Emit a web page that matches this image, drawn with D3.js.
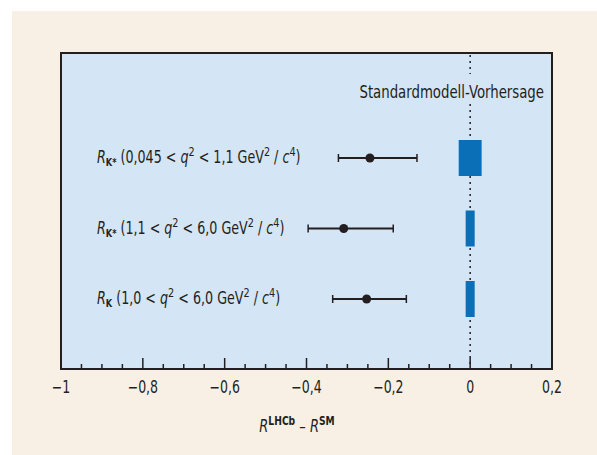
<!DOCTYPE html>
<html>
<head>
<meta charset="utf-8">
<script src="https://cdn.jsdelivr.net/npm/d3@7"></script>
<style>
  body { margin: 0; background: #fff; }
  svg text { font-family: "DejaVu Sans Condensed", "Liberation Sans Narrow", sans-serif; fill: #231f20; }
</style>
</head>
<body>
<svg id="chart"></svg>
<script>
// data
var rows = ["RKstarLow", "RKstarCentral", "RK"];
var lhcbValue = [-0.245, -0.309, -0.253];
var lhcbLow = [-0.322, -0.396, -0.336];
var lhcbHigh = [-0.130, -0.188, -0.156];
var smError = [0.028, 0.011, 0.011];
var xTicks = [-1, -0.8, -0.6, -0.4, -0.2, 0, 0.2];
var labelSub = ["K*", "K*", "K"];
var labelRange = [["0,045", "1,1"], ["1,1", "6,0"], ["1,0", "6,0"]];

var width = 597,
    height = 455;

var svg = d3.select("#chart")
    .attr("width", width)
    .attr("height", height);

// text squeezed horizontally to look like the condensed font of the original
function narrowText(parent, px, py, sx){
    return parent.append("g")
        .attr("transform", "translate(" + px + "," + py + ")")
        .append("text")
        .attr("transform", "scale(" + sx + ",1)");
}

// beige panel
svg.append("rect")
    .attr("x", 12).attr("y", 11)
    .attr("width", width - 12).attr("height", height - 11)
    .attr("fill", "#f9f0e5");

var pLeft = 61, pRight = 552, pTop = 53, pBottom = 369;

var x = d3.scaleLinear()
    .domain([-1, 0.2])
    .range([pLeft, pRight]);

var y = d3.scalePoint()
    .domain(rows)
    .range([158, 299]);

svg.append("rect")
    .attr("x", pLeft).attr("y", pTop)
    .attr("width", pRight - pLeft).attr("height", pBottom - pTop)
    .attr("fill", "#d4e5f5")
    .attr("stroke", "#231f20")
    .attr("stroke-width", 2);

// minor and major ticks inside the box
var minor = d3.range(-1, 0.2001, 0.05);
svg.append("g")
    .selectAll("line")
    .data(minor)
    .enter()
    .append("line")
    .attr("x1", function(d){ return x(d); })
    .attr("x2", function(d){ return x(d); })
    .attr("y1", pBottom)
    .attr("y2", function(d){
        var isMajor = Math.abs(d * 5 - Math.round(d * 5)) < 1e-6;
        return isMajor ? pBottom - 11 : pBottom - 5;
    })
    .attr("stroke", "#231f20")
    .attr("stroke-width", 1.5);

var loc = d3.formatLocale({decimal: ",", thousands: ".", grouping: [3], currency: ["", "€"], minus: "\u2212"});
var fmt = loc.format("~g");

xTicks.forEach(function(d){
    narrowText(svg, x(d), 393, 0.82)
        .attr("text-anchor", "middle")
        .style("font-size", "17px")
        .text(fmt(d));
});

// axis title
var title = narrowText(svg, 297, 432, 0.85)
    .attr("text-anchor", "middle")
    .style("font-size", "17px");
title.append("tspan").style("font-style", "italic").text("R");
title.append("tspan").attr("dy", -7).style("font-size", "12px").style("font-weight", "bold").text("LHCb");
title.append("tspan").attr("dy", 7).text(" \u2013 ");
title.append("tspan").style("font-style", "italic").text("R");
title.append("tspan").attr("dy", -7).style("font-size", "12px").style("font-weight", "bold").text("SM");

// dotted SM line
var dotted = svg.append("g")
    .attr("stroke", "#231f20")
    .attr("stroke-width", 1.5)
    .attr("stroke-dasharray", "2,4");
dotted.append("line")
    .attr("x1", x(0)).attr("x2", x(0))
    .attr("y1", pTop + 2).attr("y2", 74);
dotted.append("line")
    .attr("x1", x(0)).attr("x2", x(0))
    .attr("y1", 104).attr("y2", pBottom - 2);

narrowText(svg, 544, 98, 0.87)
    .attr("text-anchor", "end")
    .style("font-size", "17px")
    .text("Standardmodell-Vorhersage");

// SM boxes
svg.append("g")
    .selectAll("rect")
    .data(rows)
    .enter()
    .append("rect")
    .attr("x", function(d, i){ return x(-smError[i]); })
    .attr("width", function(d, i){ return x(smError[i]) - x(-smError[i]); })
    .attr("y", function(d){ return y(d) - 18; })
    .attr("height", 36)
    .attr("fill", "#0a6fb6");

// LHCb measurements
var meas = svg.append("g")
    .selectAll("g")
    .data(rows)
    .enter()
    .append("g");

meas.append("line")
    .attr("x1", function(d, i){ return x(lhcbLow[i]); })
    .attr("x2", function(d, i){ return x(lhcbHigh[i]); })
    .attr("y1", function(d){ return y(d); })
    .attr("y2", function(d){ return y(d); })
    .attr("stroke", "#231f20")
    .attr("stroke-width", 2);

[lhcbLow, lhcbHigh].forEach(function(arr){
    meas.append("line")
        .attr("x1", function(d, i){ return x(arr[i]); })
        .attr("x2", function(d, i){ return x(arr[i]); })
        .attr("y1", function(d){ return y(d) - 4; })
        .attr("y2", function(d){ return y(d) + 4; })
        .attr("stroke", "#231f20")
        .attr("stroke-width", 1.5);
});

meas.append("circle")
    .attr("cx", function(d, i){ return x(lhcbValue[i]); })
    .attr("cy", function(d){ return y(d); })
    .attr("r", 4.5)
    .attr("fill", "#231f20");

// row labels
meas.each(function(d, i){
    var t = narrowText(d3.select(this), 97, y(d) + 5, 0.83)
        .style("font-size", "17px");
    t.append("tspan").style("font-style", "italic").text("R");
    t.append("tspan").attr("dy", 3).style("font-size", "11px").style("font-weight", "bold").text(labelSub[i]);
    t.append("tspan").attr("dy", -3).text(" (" + labelRange[i][0] + " < ");
    t.append("tspan").style("font-style", "italic").text("q");
    t.append("tspan").attr("dy", -7).style("font-size", "13px").text("2");
    t.append("tspan").attr("dy", 7).text(" < " + labelRange[i][1] + " GeV");
    t.append("tspan").attr("dy", -7).style("font-size", "13px").text("2");
    t.append("tspan").attr("dy", 7).text(" / ");
    t.append("tspan").style("font-style", "italic").text("c");
    t.append("tspan").attr("dy", -7).style("font-size", "13px").text("4");
    t.append("tspan").attr("dy", 7).text(")");
});
</script>
</body>
</html>
